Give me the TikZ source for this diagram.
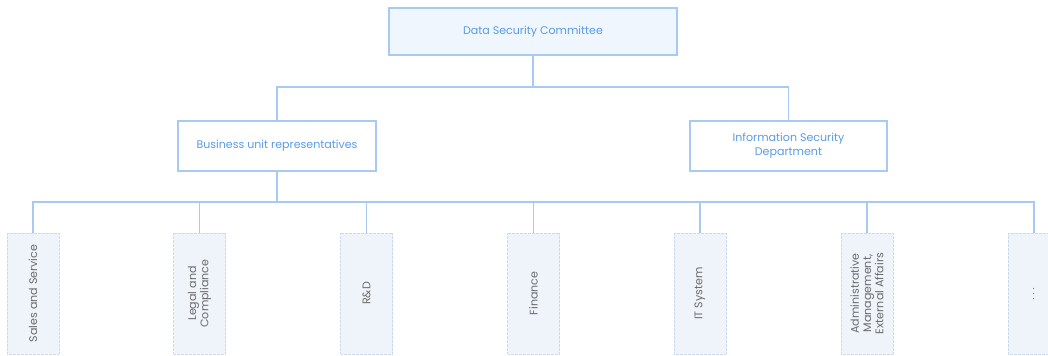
\documentclass[tikz,border=0pt]{standalone}
\usepackage{fontspec}
\setmainfont{Poppins}
\definecolor{lineblue}{HTML}{A8C9F1}
\definecolor{textblue}{HTML}{5A9BE6}
\definecolor{fillblue}{HTML}{F0F6FD}
\definecolor{boxfill}{HTML}{EFF4FB}
\definecolor{dotline}{HTML}{CCDAEC}
\definecolor{graytext}{HTML}{6B6B6B}
\tikzset{
  conn/.style={draw=lineblue, line width=0.9pt},
  topbox/.style={draw=lineblue, line width=0.9pt, text=textblue, align=center, font=\fontsize{8.3}{10.5}\selectfont, inner sep=0pt},
  unitbox/.style={draw=dotline, fill=boxfill, line width=0.5pt, dash pattern=on 0.5pt off 0.5pt, rotate=90, minimum width=121*0.75pt, minimum height=52*0.75pt, inner sep=0pt, text=graytext, align=center, font=\fontsize{8.3}{9.2}\selectfont}
}
\begin{document}
\begin{tikzpicture}[x=0.75pt,y=-0.75pt]
\useasboundingbox (0,0) rectangle (1048,356);
\clip (0,0) rectangle (1048,356);
\node[topbox, fill=fillblue, minimum width=288*0.75pt, minimum height=47*0.75pt] (top) at (533,31.5) {Data Security Committee};
\node[topbox, fill=white, minimum width=198*0.75pt, minimum height=50*0.75pt] (bus) at (277,146) {Business unit representatives};
\node[topbox, fill=white, minimum width=197*0.75pt, minimum height=50*0.75pt] (info) at (788.5,146) {Information Security\\Department};
\coordinate (j1) at (533,87);
\coordinate (j2) at (277,202);
\node[unitbox] (b1) at (33,293.5) {Sales and Service};
\node[unitbox] (b2) at (199.5,293.5) {Legal and\\Compliance};
\node[unitbox] (b3) at (366.5,293.5) {R\&D};
\node[unitbox] (b4) at (533.5,293.5) {Finance};
\node[unitbox] (b5) at (700,293.5) {IT System};
\node[unitbox] (b6) at (867,293.5) {Administrative\\Management,\\External Affairs};
\node[unitbox] (b7) at (1034,293.5) {\(\cdots\)};
\draw[conn] (top.south) -- (j1);
\draw[conn] (bus.north) |- (j1) -| (info.north);
\draw[conn] (bus.south) -- (j2);
\draw[conn] (b1.east) |- (j2) -| (b7.east);
\foreach \b in {b2,b3,b4,b5,b6} \draw[conn] (\b.east) -- (\b.east |- j2);
\end{tikzpicture}
\end{document}
